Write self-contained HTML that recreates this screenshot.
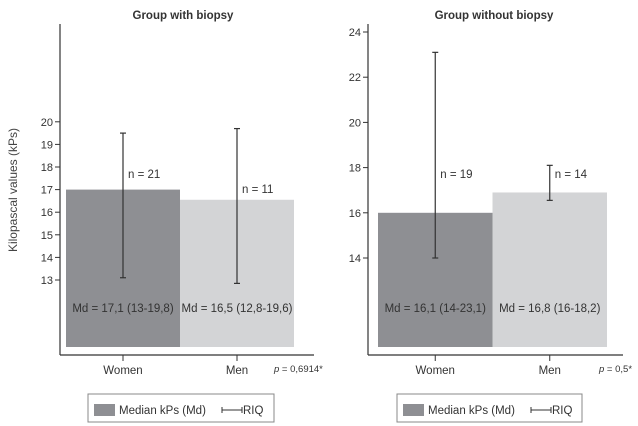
<!DOCTYPE html>
<html><head><meta charset="utf-8"><style>
html,body{margin:0;padding:0;background:#fff;}
svg{display:block;font-family:"Liberation Sans",Arial,sans-serif;}
</style></head><body>
<svg id="chart" width="638" height="426" viewBox="0 0 638 426" xmlns="http://www.w3.org/2000/svg">
<text x="17" y="190" transform="rotate(-90 17 190)" text-anchor="middle" font-size="12" fill="#444">Kilopascal values (kPs)</text>
</svg>
<script>
const panelTitles = ["Group with biopsy", "Group without biopsy"];
const categories = ["Women", "Men"];
const medians = [[17.0, 16.55], [16.0, 16.9]];
const riqLow = [[13.1, 12.85], [14.0, 16.55]];
const riqHigh = [[19.5, 19.7], [23.1, 18.1]];
const nLabels = [["n = 21", "n = 11"], ["n = 19", "n = 14"]];
const mdLabels = [["Md = 17,1 (13-19,8)", "Md = 16,5 (12,8-19,6)"], ["Md = 16,1 (14-23,1)", "Md = 16,8 (16-18,2)"]];
const yTicks = [[13,14,15,16,17,18,19,20], [14,16,18,20,22,24]];
const pLabels = ["p = 0,6914*", "p = 0,5*"];

const NS = "http://www.w3.org/2000/svg";
const svg = document.getElementById("chart");
function mk(tag, attrs, parent) {
  const e = document.createElementNS(NS, tag);
  for (const k in attrs) e.setAttribute(k, attrs[k]);
  (parent || svg).appendChild(e);
  return e;
}
const panels = [
  {ax: 60, axEnd: 314, barX: 66, barW: 114, refV: 13, refY: 280, title: 183, legX: 88, legW: 186, pX: 274},
  {ax: 368, axEnd: 623, barX: 378, barW: 114.5, refV: 14, refY: 258, title: 494, legX: 397, legW: 185, pX: 599}
];
const pxPerUnit = 22.6, baseY = 347, axisY = 355;
const colors = ["#8e8f93", "#d3d4d6"];

panels.forEach((p, pi) => {
  const g = mk("g", {});
  
  
  const y = v => p.refY - (v - p.refV) * pxPerUnit;
  const t = mk("text", {x: p.title, y: 19, "text-anchor": "middle", "font-size": 11.5, "font-weight": "bold", fill: "#333"}, g);
  t.textContent = panelTitles[pi];
  
  
  categories.forEach((c, ci) => {
    const bx = p.barX + ci * p.barW, cx = bx + p.barW / 2;
    const r = mk("rect", {x: bx, y: y(medians[pi][ci]), width: p.barW, height: baseY - y(medians[pi][ci]), fill: colors[ci]}, g);
    
    
    const e = mk("g", {stroke: "#333", "stroke-width": 1.2}, g);
    
    
    mk("line", {x1: cx, x2: cx, y1: y(riqHigh[pi][ci]), y2: y(riqLow[pi][ci])}, e);
    mk("line", {x1: cx - 3, x2: cx + 3, y1: y(riqHigh[pi][ci]), y2: y(riqHigh[pi][ci])}, e);
    mk("line", {x1: cx - 3, x2: cx + 3, y1: y(riqLow[pi][ci]), y2: y(riqLow[pi][ci])}, e);
    const nt = mk("text", {x: cx + 5, y: (ci === 0 ? y(medians[pi][ci]) : y(medians[pi][ci])) - 14 + (pi===1&&ci===1?0:0), "font-size": 11.5, fill: "#333"}, g);
    nt.setAttribute("y", pi === 0 ? (ci === 0 ? 178 : 193) : 178);
    nt.textContent = nLabels[pi][ci];
    
    
    const mt = mk("text", {x: cx, y: 312, "text-anchor": "middle", "font-size": 11.5, fill: "#333"}, g);
    mt.textContent = mdLabels[pi][ci];
    
    
    mk("line", {x1: cx, x2: cx, y1: axisY, y2: axisY + 6, stroke: "#333"}, g);
    const xl = mk("text", {x: cx, y: 374, "text-anchor": "middle", "font-size": 11.5, fill: "#333"}, g);
    xl.textContent = c;
    
    
  });
  mk("line", {x1: p.ax, x2: p.ax, y1: 24, y2: axisY, stroke: "#333", "stroke-width": 1.2}, g);
  mk("line", {x1: p.ax, x2: p.axEnd, y1: axisY, y2: axisY, stroke: "#333", "stroke-width": 1.2}, g);
  yTicks[pi].forEach(v => {
    mk("line", {x1: p.ax - 5, x2: p.ax, y1: y(v), y2: y(v), stroke: "#333"}, g);
    const tl = mk("text", {x: p.ax - 7, y: y(v) + 4, "text-anchor": "end", "font-size": 11, fill: "#333"}, g);
    tl.textContent = v;
    
    
  });
  const pt = mk("text", {x: p.pX, y: 372, "font-size": 9.5, fill: "#333", "font-style": "normal"}, g);
  pt.innerHTML = '<tspan font-style="italic">p</tspan>' + pLabels[pi].slice(1);
  
  
  const lg = mk("g", {}, g);
  
  
  mk("rect", {x: p.legX, y: 394, width: p.legW, height: 28, fill: "#fff", stroke: "#888", "stroke-width": 1}, lg);
  mk("rect", {x: p.legX + 6, y: 404, width: 21, height: 12, fill: colors[0]}, lg);
  const l1 = mk("text", {x: p.legX + 31, y: 414, "font-size": 11.5, fill: "#333"}, lg);
  l1.textContent = "Median kPs (Md)";
  mk("line", {x1: p.legX + 134, x2: p.legX + 154, y1: 410, y2: 410, stroke: "#333"}, lg);
  mk("line", {x1: p.legX + 134, x2: p.legX + 134, y1: 407, y2: 413, stroke: "#333"}, lg);
  mk("line", {x1: p.legX + 154, x2: p.legX + 154, y1: 407, y2: 413, stroke: "#333"}, lg);
  const l2 = mk("text", {x: p.legX + 155, y: 414, "font-size": 11.5, fill: "#333"}, lg);
  l2.textContent = "RIQ";
});
</script>
</body></html>
